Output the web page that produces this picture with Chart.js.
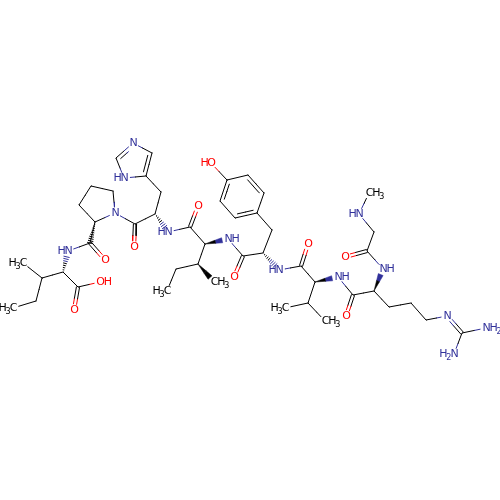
<!DOCTYPE html>
<html>
<head>
<meta charset="utf-8">
<script src="https://cdn.jsdelivr.net/npm/chart.js@4"></script>
<style>
  html, body { margin: 0; padding: 0; background: #fff; }
  canvas { display: block; }
</style>
</head>
<body>
<canvas id="mol" width="500" height="500"></canvas>
<script>
// atoms
const atomNames = ['m1','b1','g1','d1','a1','c1','o1','oh','n1','c2','o2','pa','pb','pg','pd','pn','c3','o3',
  'ha','hb','hg','hd','hn','he','hh','n4','c5','o5','ia','ib','im','ig','id','n6','c7','o7',
  'ta','tb','r1','r2','r3','r4','r5','r6','ho','n8','c9','o9','va','vb','v1','v2','n10','c11','o11',
  'ra','rb','rg','rd','re','rc','r7','r8','n12','c13','o13','ga','n14','m14'];
const atomX = [23,42,36,13,63,78,74,100,68,90,105,95,79,91,113,115,135,134,
  155,161,146,152,133,116,124,168,190,198,205,198,214,176,167,228,243,234,
  263,272,257,264,248,227,220,235,211,279,301,308,315,308,285,325,338,353,346,
  374,389,411,426,447,462,486,454,383,367,345,374,359,369];
const atomY = [263,278,301,308,272,287,310,282,251,243,260,222,205,186,191,213,224,247,
  214,192,176,153,143,158,178,232,227,206,244,264,282,269,291,239,256,277,
  253,230,213,193,175,180,201,218,163,270,266,244,282,303,308,321,277,295,316,
  291,307,303,320,316,333,328,354,269,251,257,232,214,193];
const atomLabels = {m1:'H3C',d1:'H3C',o1:'O',oh:'OH',n1:'HN',o2:'O',pn:'N',o3:'O',hn:'N',hh:'HN',n4:'HN',o5:'O',
  im:'CH3',id:'H3C',n6:'NH',o7:'O',ho:'HO',n8:'HN',o9:'O',v1:'H3C',v2:'CH3',n10:'NH',o11:'O',
  re:'N',r7:'NH2',r8:'H2N',n12:'NH',o13:'O',n14:'HN',m14:'CH3'};

// bonds: from, to
const singleBonds = [['m1','b1'],['b1','g1'],['g1','d1'],['b1','a1'],['a1','c1'],['c1','oh'],['n1','c2'],['c2','pa'],
  ['pa','pb'],['pb','pg'],['pg','pd'],['pd','pn'],['pn','pa'],['pn','c3'],['c3','ha'],['ha','hb'],['hb','hg'],
  ['hd','hn'],['he','hh'],['hh','hg'],['n4','c5'],['c5','ia'],['ia','ib'],['ib','ig'],['ig','id'],['n6','c7'],
  ['c7','ta'],['ta','tb'],['tb','r1'],['r1','r2'],['r3','r4'],['r5','r6'],['r4','ho'],['n8','c9'],['c9','va'],
  ['va','vb'],['vb','v1'],['vb','v2'],['n10','c11'],['c11','ra'],['ra','rb'],['rb','rg'],['rg','rd'],['rd','re'],
  ['rc','r7'],['rc','r8'],['n12','c13'],['c13','ga'],['ga','n14'],['n14','m14']];
const doubleBonds = [['c1','o1'],['c2','o2'],['c3','o3'],['c5','o5'],['c7','o7'],['c9','o9'],['c11','o11'],['c13','o13'],['re','rc']];
const ringDoubleBonds = [['hg','hd'],['hn','he'],['r2','r3'],['r4','r5'],['r6','r1']];
const rings = [['hg','hd','hn','he','hh'],['r1','r2','r3','r4','r5','r6']];
const wedgeBonds = [['ia','n6'],['ib','im'],['va','n10'],['ra','n12']];
const hashBonds = [['a1','n1'],['pa','c2'],['ha','n4'],['ta','n8']];

const BLUE = '#30309a', RED = '#ff0000', BLACK = '#000000';
const at = {};
atomNames.forEach((n, i) => { at[n] = { x: atomX[i], y: atomY[i] }; });

function colorOf(name) {
  const l = atomLabels[name];
  if (!l) return BLACK;
  if (l.includes('N')) return BLUE;
  if (l.includes('O')) return RED;
  return BLACK;
}

const datasets = [];
function seg(a, b, color) {
  datasets.push({ data: [a, b], showLine: true, borderColor: color, borderWidth: 1, pointRadius: 0, fill: false });
}
function poly(pts, color) {
  datasets.push({ data: pts, showLine: true, borderColor: color, backgroundColor: color, borderWidth: 0.5, pointRadius: 0, fill: 'shape' });
}
function mix(a, b, t) { return { x: a.x + (b.x - a.x) * t, y: a.y + (b.y - a.y) * t }; }

// two colour line, cut back where there is a label
function bondLine(a, b, ox, oy, trimA, trimB) {
  const p = at[a], q = at[b];
  const len = Math.hypot(q.x - p.x, q.y - p.y);
  const ta = trimA != null ? trimA : (atomLabels[a] ? 6 / len : 0);
  const tb = trimB != null ? trimB : (atomLabels[b] ? 6 / len : 0);
  const shift = (v) => ({ x: v.x + ox, y: v.y + oy });
  const mid = shift(mix(p, q, 0.5));
  seg(shift(mix(p, q, ta)), mid, colorOf(a));
  seg(mid, shift(mix(p, q, 1 - tb)), colorOf(b));
}

singleBonds.forEach(([a, b]) => bondLine(a, b, 0, 0));

doubleBonds.forEach(([a, b]) => {
  const p = at[a], q = at[b];
  const len = Math.hypot(q.x - p.x, q.y - p.y);
  const nx = -(q.y - p.y) / len * 1.6, ny = (q.x - p.x) / len * 1.6;
  bondLine(a, b, nx, ny);
  bondLine(a, b, -nx, -ny);
});

ringDoubleBonds.forEach(([a, b]) => {
  const p = at[a], q = at[b];
  const ring = rings.find(r => r.includes(a) && r.includes(b));
  const cx = ring.reduce((s, n) => s + at[n].x, 0) / ring.length;
  const cy = ring.reduce((s, n) => s + at[n].y, 0) / ring.length;
  const len = Math.hypot(q.x - p.x, q.y - p.y);
  let nx = -(q.y - p.y) / len * 3.5, ny = (q.x - p.x) / len * 3.5;
  if ((cx - p.x) * nx + (cy - p.y) * ny < 0) { nx = -nx; ny = -ny; }
  bondLine(a, b, 0, 0);
  bondLine(a, b, nx, ny, atomLabels[a] ? 0.4 : 0.14, atomLabels[b] ? 0.4 : 0.14);
});

wedgeBonds.forEach(([a, b]) => {
  const p = at[a], q = mix(at[a], at[b], 1 - 6 / Math.hypot(at[b].x - at[a].x, at[b].y - at[a].y));
  const len = Math.hypot(q.x - p.x, q.y - p.y);
  const nx = -(q.y - p.y) / len, ny = (q.x - p.x) / len;
  const w = (t) => {
    const c = mix(p, q, t), h = 2.6 * t;
    return [{ x: c.x + nx * h, y: c.y + ny * h }, { x: c.x - nx * h, y: c.y - ny * h }];
  };
  const m = w(0.6), e = w(1);
  poly([p, m[0], m[1], p], BLACK);
  poly([m[0], e[0], e[1], m[1], m[0]], colorOf(b));
});

hashBonds.forEach(([a, b]) => {
  const p = at[a];
  const len0 = Math.hypot(at[b].x - p.x, at[b].y - p.y);
  const q = mix(p, at[b], atomLabels[b] ? 1 - 6 / len0 : 1);
  const len = Math.hypot(q.x - p.x, q.y - p.y);
  const nx = -(q.y - p.y) / len, ny = (q.x - p.x) / len;
  const n = Math.round(len / 2.2);
  for (let i = 1; i <= n; i++) {
    const t = i / n, c = mix(p, q, t), h = 2.8 * t;
    seg({ x: c.x + nx * h, y: c.y + ny * h }, { x: c.x - nx * h, y: c.y - ny * h }, t > 0.6 ? colorOf(b) : BLACK);
  }
});

// atom labels, digits as subscripts, letters set a bit tight like the original
const atomText = {
  id: 'atomText',
  afterDatasetsDraw(chart) {
    const ctx = chart.ctx, sx = chart.scales.x, sy = chart.scales.y;
    const big = '11px "DejaVu Sans"', small = '8px "DejaVu Sans"';
    const tight = 0.84;
    ctx.save();
    ctx.textBaseline = 'middle';
    ctx.textAlign = 'left';
    Object.keys(atomLabels).forEach((name) => {
      const text = atomLabels[name];
      const chars = text.split('');
      const widths = chars.map((c) => {
        ctx.font = /\d/.test(c) ? small : big;
        return ctx.measureText(c).width * tight;
      });
      const total = widths.reduce((s, w) => s + w, 0);
      const px = sx.getPixelForValue(at[name].x), py = sy.getPixelForValue(at[name].y) + 0.5;
      const heavyFirst = !text.startsWith('H');
      let x = heavyFirst ? px - widths[0] / 2 : px + widths[widths.length - 1] / 2 - total;
      ctx.fillStyle = colorOf(name);
      chars.forEach((c, i) => {
        const sub = /\d/.test(c);
        ctx.font = sub ? small : big;
        ctx.fillText(c, x, sub ? py + 3 : py);
        x += widths[i];
      });
    });
    ctx.restore();
  }
};

new Chart(document.getElementById('mol').getContext('2d'), {
  type: 'scatter',
  data: { datasets },
  options: {
    responsive: false,
    animation: false,
    layout: { padding: 0 },
    elements: { line: { tension: 0, borderCapStyle: 'round' } },
    plugins: { legend: { display: false }, tooltip: { enabled: false }, title: { display: false } },
    scales: {
      x: { display: false, min: 0, max: 500 },
      y: { display: false, min: 0, max: 500, reverse: true }
    }
  },
  plugins: [atomText]
});
</script>
</body>
</html>
